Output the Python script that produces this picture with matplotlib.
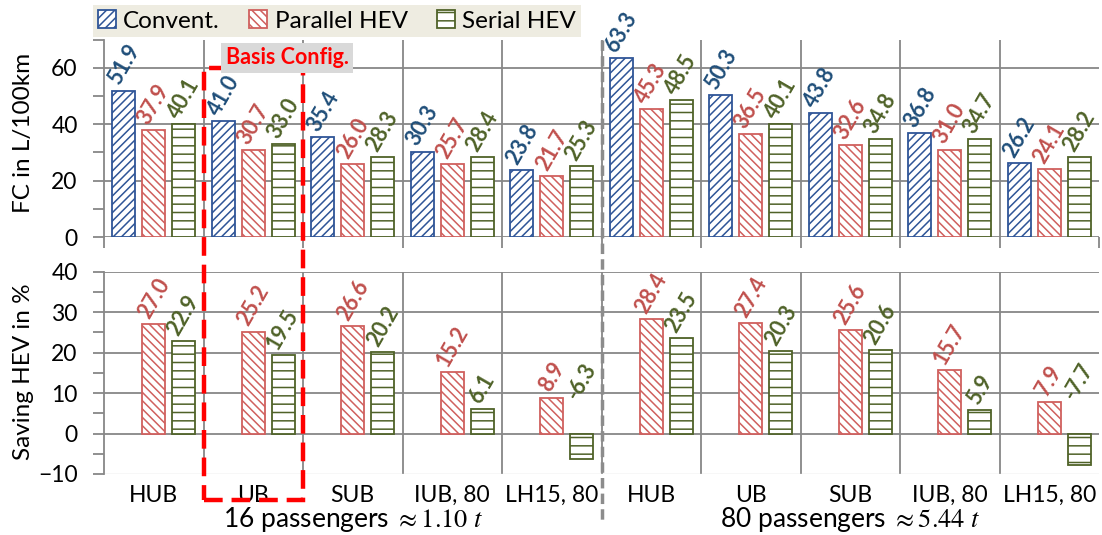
import matplotlib
matplotlib.use('Agg')
import matplotlib.pyplot as plt
from matplotlib.patches import Patch, Rectangle
from matplotlib.lines import Line2D
from matplotlib.ticker import MultipleLocator

# Fahrzeugvarianten und Werte
categories = ['HUB', 'UB', 'SUB', 'IUB, 80', 'LH15, 80',
              'HUB', 'UB', 'SUB', 'IUB, 80', 'LH15, 80']
fc_convent = [51.9, 41.0, 35.4, 30.3, 23.8, 63.3, 50.3, 43.8, 36.8, 26.2]
fc_parallel = [37.9, 30.7, 26.0, 25.7, 21.7, 45.3, 36.5, 32.6, 31.0, 24.1]
fc_serial = [40.1, 33.0, 28.3, 28.4, 25.3, 48.5, 40.1, 34.8, 34.7, 28.2]
save_parallel = [27.0, 25.2, 26.6, 15.2, 8.9, 28.4, 27.4, 25.6, 15.7, 7.9]
save_serial = [22.9, 19.5, 20.2, 6.1, -6.3, 23.5, 20.3, 20.6, 5.9, -7.7]
group_labels = [r'16 passengers $\approx 1.10\ t$', r'80 passengers $\approx 5.44\ t$']
series_names = ['Convent.', 'Parallel HEV', 'Serial HEV']

plt.rcParams['font.family'] = ['Lato', 'DejaVu Sans']
plt.rcParams['mathtext.fontset'] = 'stix'
plt.rcParams['hatch.linewidth'] = 1.1

blue, red, green = '#2F5597', '#D0605E', '#4F6228'
blue_t, red_t, green_t = '#1F4E79', '#C0504D', '#4F6228'
grid_c = '#878787'

styles = [dict(edgecolor=blue, hatch='////'),
          dict(edgecolor=red, hatch='\\\\\\\\'),
          dict(edgecolor=green, hatch='--')]
offsets = [-0.3, 0.0, 0.3]
width = 0.23

fig = plt.figure(figsize=(11.02, 5.35), dpi=100)
W, H = 1102, 535
L, R = 104 / W, 1099 / W
ax1 = fig.add_axes([L, 1 - 237 / H, R - L, (237 - 39.5) / H])
ax2 = fig.add_axes([L, 1 - 474 / H, R - L, (474 - 271.7) / H])

n = len(categories)
centers = [i + 0.5 for i in range(n)]


def setup(ax, ymin, ymax, major, minor, grid_vals):
    ax.set_xlim(0, n)
    ax.set_ylim(ymin, ymax)
    ax.yaxis.set_major_locator(MultipleLocator(major))
    ax.yaxis.set_minor_locator(MultipleLocator(minor))
    for s in ['top', 'right', 'bottom']:
        ax.spines[s].set_visible(False)
    ax.spines['left'].set_color(grid_c)
    ax.spines['left'].set_linewidth(1.3)
    ax.tick_params(axis='y', which='both', direction='out', length=8,
                   width=1.3, color=grid_c, labelsize=16.5, pad=11)
    for v in grid_vals:
        ax.axhline(v, color=grid_c, lw=1.3, zorder=0)
    for b in range(1, n):
        ax.axvline(b, color=grid_c, lw=1.3, zorder=0)


setup(ax1, 0, 70, 20, 10, [0, 20, 40, 60])
setup(ax2, -10, 40, 10, 5, [0, 10, 20, 30, 40])
ax2.axhline(-10, color='#D9D9D9', lw=1.0, zorder=0)

# obere Achse: Striche an den Gruppengrenzen
ax1.set_xticks(range(0, n + 1))
ax1.set_xticklabels([])
ax1.tick_params(axis='x', direction='out', length=8, width=1.3, color=grid_c)

# untere Achse: Beschriftung in der Gruppenmitte
ax2.set_xticks(centers)
ax2.set_xticklabels(categories)
ax2.tick_params(axis='x', length=0, labelsize=16.5, pad=8)


def label(ax, x, v, color):
    y = v if v >= 0 else 7.0
    ax.annotate(f'{v:.1f}', (x, y), xytext=(0, 1.5), textcoords='offset points',
                rotation=60, ha='center', va='bottom', fontsize=15.5,
                fontweight='bold', color=color, annotation_clip=False)


fc_data = [fc_convent, fc_parallel, fc_serial]
text_cols = [blue_t, red_t, green_t]
for k in range(3):
    xs = [c + offsets[k] for c in centers]
    ax1.bar(xs, fc_data[k], width, facecolor='white', linewidth=1.3, zorder=2, **styles[k])
    for x, v in zip(xs, fc_data[k]):
        label(ax1, x, v, text_cols[k])

for k, vals in [(1, save_parallel), (2, save_serial)]:
    xs = [c + offsets[k] for c in centers]
    ax2.bar(xs, vals, width, facecolor='white', linewidth=1.3, zorder=2, **styles[k])
    for x, v in zip(xs, vals):
        label(ax2, x, v, text_cols[k])

ax1.set_facecolor('none')
ax2.set_facecolor('none')

# Achsentitel
fig.text(24 / W, 1 - 133 / H, 'FC in L/100km', rotation=90, ha='center', va='center', fontsize=17.5)
fig.text(24 / W, 1 - 372 / H, 'Saving HEV in %', rotation=90, ha='center', va='center', fontsize=17.5)

# Gruppenbeschriftung
for g, txt in enumerate(group_labels):
    xc = L + (R - L) * (2.5 + 5 * g) / n
    fig.text(xc, 1 - 520 / H, txt, ha='center', va='center', fontsize=19)

# Trennlinie zwischen den Gruppen
xs = L + (R - L) * 5 / n
fig.add_artist(Line2D([xs, xs], [1 - 40 / H, 1 - 522 / H], transform=fig.transFigure,
                      color='#8C8C8C', lw=2.5, ls=(0, (3, 1.5))))

# Rahmen um die Basiskonfiguration
x0 = L + (R - L) * 1 / n
x1 = L + (R - L) * 2 / n
fig.add_artist(Rectangle((x0, 1 - 500 / H), x1 - x0, (500 - 67.5) / H,
                         transform=fig.transFigure, fill=False, edgecolor='#FF0000',
                         lw=3.2, ls=(0, (4.2, 2.0)), zorder=5))
fig.text(287 / W, 1 - 58 / H, 'Basis Config.', ha='center', va='center', fontsize=15.5,
         fontweight='bold', color='#FF0000', zorder=6,
         bbox=dict(facecolor='#D9D9D9', edgecolor='none', pad=3.0))

# Legende
handles = [Patch(facecolor='white', linewidth=1.3, **s) for s in styles]
fig.legend(handles, series_names, loc='center', bbox_to_anchor=(337 / W, 1 - 21 / H),
           ncol=3, fontsize=17.5, frameon=True, facecolor='#EEECE1', edgecolor='none',
           fancybox=False, framealpha=1, handlelength=0.75, handleheight=0.75,
           handletextpad=0.3, columnspacing=1.2, borderpad=0.2)

fig.savefig('out.png', dpi=100)
